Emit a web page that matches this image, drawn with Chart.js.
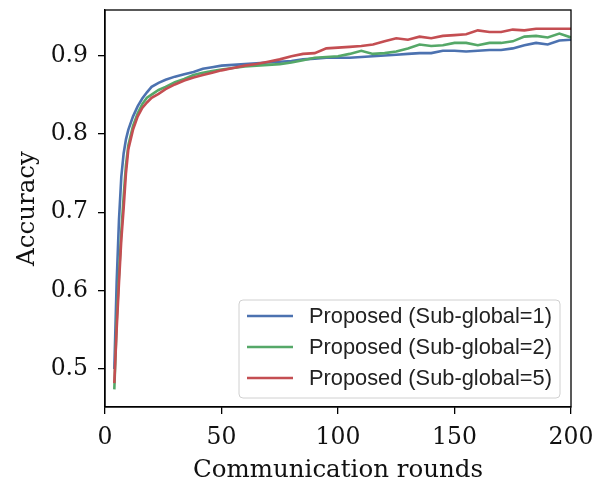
<!DOCTYPE html>
<html lang="en">
<head>
    <meta charset="UTF-8">
    <title>Accuracy vs communication rounds</title>
    <script src="https://cdn.jsdelivr.net/npm/chart.js"></script>
    <style>
        body { margin: 0; background: #fff; }
        #box { width: 607px; height: 482px; }
    </style>
</head>
<body>
    <div id="box"><canvas id="grafico" width="607" height="482"></canvas></div>

<script>
    var rounds = [4, 5, 6, 7, 8, 9, 10, 12, 14, 16, 18, 20, 23, 26, 30, 34, 38, 42, 46, 50,
                  55, 60, 65, 70, 75, 80, 85, 90, 95, 100, 105, 110, 115, 120, 125, 130, 135, 140, 145, 150,
                  155, 160, 165, 170, 175, 180, 185, 190, 195, 200];

    var sub1 = [0.500, 0.610, 0.690, 0.745, 0.775, 0.793, 0.805, 0.822, 0.835, 0.845, 0.853, 0.860, 0.865, 0.869, 0.873, 0.876, 0.879, 0.883, 0.885, 0.887,
                0.888, 0.889, 0.890, 0.891, 0.892, 0.893, 0.895, 0.896, 0.897, 0.897, 0.897, 0.898, 0.899, 0.900, 0.901, 0.902, 0.903, 0.903, 0.906, 0.906,
                0.905, 0.906, 0.907, 0.907, 0.909, 0.913, 0.916, 0.914, 0.919, 0.920];

    var sub2 = [0.474, 0.560, 0.620, 0.675, 0.720, 0.760, 0.785, 0.810, 0.826, 0.838, 0.846, 0.850, 0.856, 0.860, 0.866, 0.870, 0.875, 0.878, 0.880, 0.882,
                0.884, 0.886, 0.887, 0.888, 0.889, 0.891, 0.894, 0.897, 0.898, 0.899, 0.902, 0.906, 0.902, 0.903, 0.905, 0.909, 0.914, 0.912, 0.913, 0.916,
                0.916, 0.913, 0.916, 0.916, 0.918, 0.924, 0.925, 0.923, 0.928, 0.923];

    var sub5 = [0.482, 0.550, 0.610, 0.665, 0.705, 0.750, 0.780, 0.805, 0.822, 0.833, 0.840, 0.846, 0.851, 0.857, 0.863, 0.868, 0.872, 0.875, 0.878, 0.881,
                0.884, 0.887, 0.889, 0.892, 0.895, 0.899, 0.902, 0.903, 0.909, 0.910, 0.911, 0.912, 0.914, 0.918, 0.922, 0.920, 0.924, 0.922, 0.925, 0.926,
                0.927, 0.932, 0.930, 0.930, 0.933, 0.932, 0.934, 0.934, 0.934, 0.934];

    var nomes = ['Proposed (Sub-global=1)', 'Proposed (Sub-global=2)', 'Proposed (Sub-global=5)'];
    var cores = ['#4C72B0', '#55A868', '#C44E52'];

    var xTicks = [0, 50, 100, 150, 200];
    var yTicks = [0.5, 0.6, 0.7, 0.8, 0.9];

    function pontos(vals) {
        return rounds.map((r, i) => ({ x: r, y: vals[i] }));
    }

    var serif = '"DejaVu Serif", serif';

    // box around the plot + legend inside lower right
    var moldura = {
        id: 'moldura',
        afterDraw(chart) {
            var ctx = chart.ctx;
            var a = chart.chartArea;
            ctx.save();
            ctx.strokeStyle = '#000';
            ctx.lineWidth = 1.3;
            ctx.strokeRect(a.left, a.top, a.right - a.left, a.bottom - a.top);

            // legend
            var w = 321, h = 98;
            var lx = a.right - 11 - w, ly = a.bottom - 9 - h;
            ctx.beginPath();
            ctx.roundRect(lx, ly, w, h, 4);
            ctx.fillStyle = 'rgba(255,255,255,0.8)';
            ctx.fill();
            ctx.strokeStyle = '#d0d0d0';
            ctx.lineWidth = 1;
            ctx.stroke();

            ctx.font = '21.8px "Liberation Sans", Arial, sans-serif';
            ctx.textBaseline = 'middle';
            chart.data.datasets.forEach((ds, i) => {
                var yy = ly + 16 + i * 31;
                ctx.beginPath();
                ctx.moveTo(lx + 8, yy);
                ctx.lineTo(lx + 54, yy);
                ctx.strokeStyle = ds.borderColor;
                ctx.lineWidth = 2.6;
                ctx.stroke();
                ctx.fillStyle = '#222';
                ctx.fillText(ds.label, lx + 70, yy + 1);
            });
            ctx.restore();
        }
    };

    var ctx = document.getElementById('grafico').getContext('2d');

    new Chart(ctx, {
        type: 'line',
        data: {
            datasets: [
                { label: nomes[0], data: pontos(sub1), borderColor: cores[0], order: 3 },
                { label: nomes[1], data: pontos(sub2), borderColor: cores[1], order: 2 },
                { label: nomes[2], data: pontos(sub5), borderColor: cores[2], order: 1 }
            ]
        },
        options: {
            responsive: false,
            animation: false,
            layout: { padding: { left: 0, right: 36, top: 10, bottom: 0 } },
            elements: {
                point: { radius: 0 },
                line: { borderWidth: 2.6, tension: 0, fill: false }
            },
            plugins: { legend: { display: false }, tooltip: { enabled: false } },
            scales: {
                x: {
                    type: 'linear',
                    min: 0,
                    max: 200,
                    afterBuildTicks: s => { s.ticks = xTicks.map(v => ({ value: v })); },
                    afterFit: s => { s.height = 75; s.paddingLeft = 0; s.paddingRight = 0; },
                    grid: { drawOnChartArea: false, color: '#000', lineWidth: 1.3, tickLength: 7 },
                    border: { color: '#000', width: 1.3 },
                    ticks: { color: '#111', padding: 10, maxRotation: 0, font: { family: serif, size: 23.5 } },
                    title: { display: true, text: 'Communication rounds', color: '#111', padding: { top: 0, bottom: -3 }, font: { family: serif, size: 24.5 } }
                },
                y: {
                    min: 0.4515,
                    max: 0.958,
                    afterBuildTicks: s => { s.ticks = yTicks.map(v => ({ value: v })); },
                    afterFit: s => { s.width = 105; s.paddingTop = 0; s.paddingBottom = 0; },
                    grid: { drawOnChartArea: false, color: '#000', lineWidth: 1.3, tickLength: 7 },
                    border: { color: '#000', width: 1.3 },
                    ticks: { color: '#111', padding: 10, callback: v => v.toFixed(1), font: { family: serif, size: 23.5 } },
                    title: { display: true, text: 'Accuracy', color: '#111', padding: { top: 13 }, font: { family: serif, size: 24.5 } }
                }
            }
        },
        plugins: [moldura]
    });
</script>
</body>
</html>
